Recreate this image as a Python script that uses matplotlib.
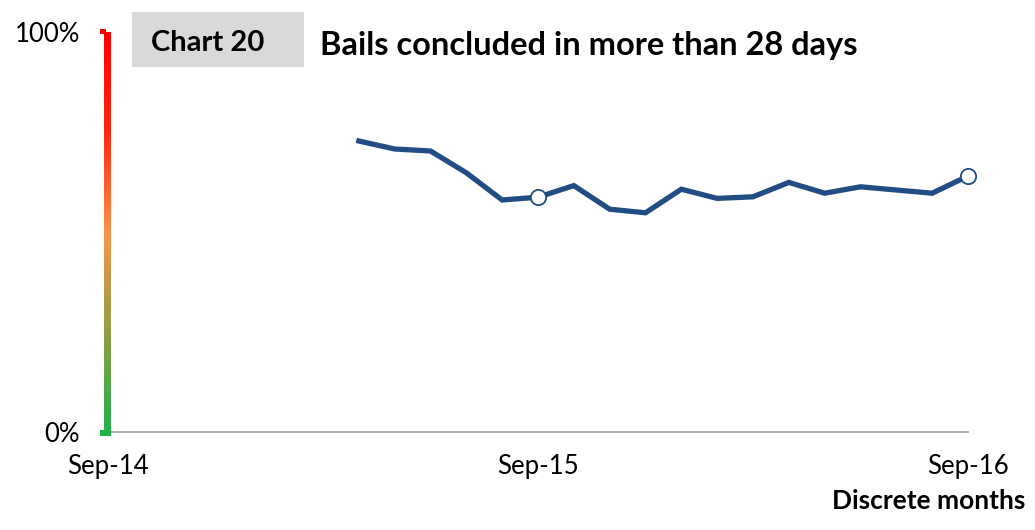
import numpy as np
import matplotlib.pyplot as plt
from matplotlib.colors import LinearSegmentedColormap
from matplotlib.patches import Rectangle

plt.rcParams['font.family'] = ['Lato', 'DejaVu Sans']

# months counted from Sep-14 (0) to Sep-16 (24)
months = list(range(7, 25))
pct_over_28_days = [72.75, 70.75, 70.25, 64.8, 58.0, 58.7, 61.6, 55.7, 54.8,
                    60.7, 58.4, 58.8, 62.4, 59.7, 61.3, 60.5, 59.7, 64.0]
tick_months = [0, 12, 24]
tick_labels = ["Sep-14", "Sep-15", "Sep-16"]
highlight_months = [12, 24]

line_col = '#214C84'

fig = plt.figure(figsize=(10.35, 5.3), dpi=100)
ax = fig.add_axes([108 / 1035, 1 - 432 / 530, 860 / 1035, 400 / 530])

ax.plot(months, pct_over_28_days, color=line_col, lw=3.8, solid_joinstyle='miter',
        zorder=3)
hl = [pct_over_28_days[months.index(m)] for m in highlight_months]
ax.plot(highlight_months, hl, 'o', ms=11, mfc='white', mec=line_col, mew=1.3,
        zorder=4, clip_on=False)

ax.set_xlim(0, 24)
ax.set_ylim(0, 100)
for s in ['top', 'right', 'left']:
    ax.spines[s].set_visible(False)
ax.spines['bottom'].set_color('#A6A6A6')
ax.spines['bottom'].set_linewidth(1.3)

ax.set_xticks(tick_months)
ax.set_xticklabels(tick_labels, fontsize=18.5)
ax.tick_params(axis='x', length=0, pad=16)
ax.set_yticks([0, 100])
ax.set_yticklabels(["0%", "100%"], fontsize=18.5)
ax.tick_params(axis='y', length=0, pad=20)

# red-amber-green gradient axis
cmap = LinearSegmentedColormap.from_list(
    'rag', ['#1DB14B', '#8F9E45', '#F7964A', '#FF2A10', '#FF0000'])
grad = np.linspace(0, 1, 256).reshape(-1, 1)
gax = fig.add_axes([104 / 1035, 1 - 436 / 530, 7 / 1035, 404 / 530])
gax.imshow(grad, cmap=cmap, aspect='auto', origin='lower')
gax.axis('off')
fig.add_artist(Rectangle((100 / 1035, 1 - 436 / 530), 6 / 1035, 6 / 530,
                         transform=fig.transFigure, color='#1DB14B', lw=0))
fig.add_artist(Rectangle((100 / 1035, 1 - 34 / 530), 6 / 1035, 5 / 530,
                         transform=fig.transFigure, color='#FF0000', lw=0))

# chart number box and title
fig.add_artist(Rectangle((132 / 1035, 1 - 67 / 530), 172 / 1035, 55 / 530,
                         transform=fig.transFigure, color='#D9D9D9', lw=0))
fig.text(208 / 1035, 1 - 43 / 530, "Chart 20", fontsize=21, fontweight='bold',
         ha='center', va='center')
fig.text(320 / 1035, 1 - 45 / 530, "Bails concluded in more than 28 days",
         fontsize=23.5, fontweight='bold', ha='left', va='center')

fig.text(1025 / 1035, 1 - 501 / 530, "Discrete months", fontsize=19,
         fontweight='bold', ha='right', va='center')

fig.savefig('out.png', dpi=100, facecolor='white')
